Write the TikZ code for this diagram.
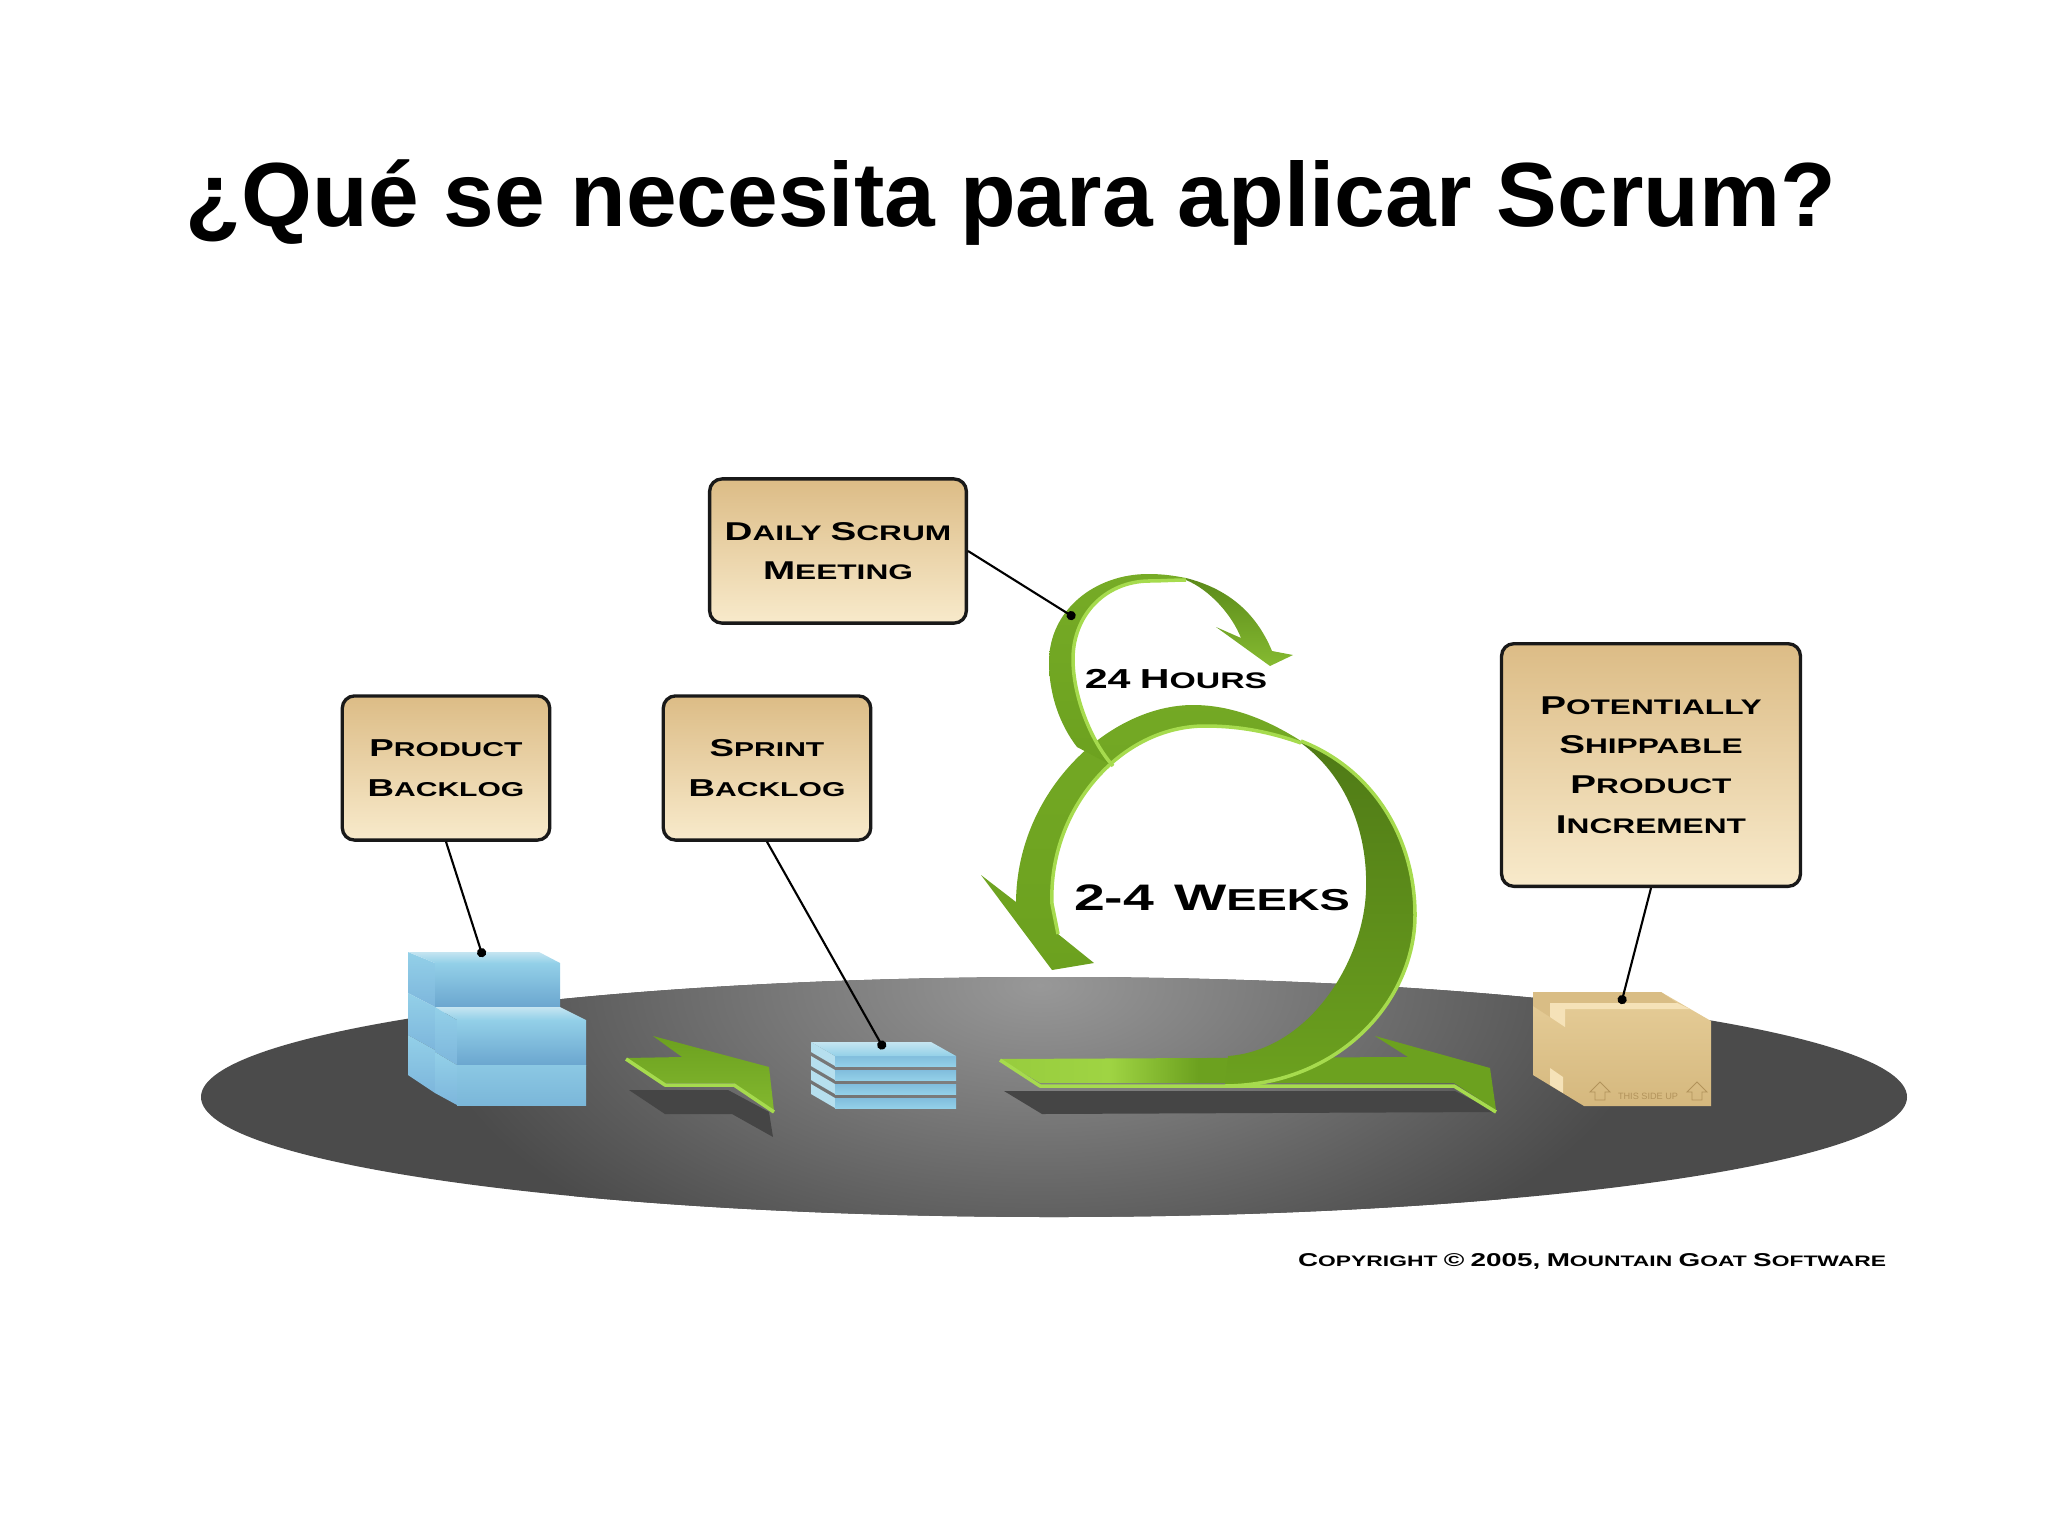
\documentclass[tikz,border=0pt]{standalone}
\usepackage{fontspec}
\usepackage{graphicx}
\setmainfont{Liberation Sans}
\newfontfamily\bankfont[FakeStretch=1.5]{Liberation Sans}
\usetikzlibrary{arrows.meta}
\definecolor{discdark}{HTML}{4B4B4B}
\definecolor{discglow}{HTML}{989898}
\definecolor{discshadow}{HTML}{454545}
\definecolor{leafdark}{HTML}{4F7A16}
\definecolor{leafmid}{HTML}{6CA11F}
\definecolor{leaflite}{HTML}{9FD443}
\definecolor{leafedge}{HTML}{A6DB4E}
\definecolor{tanhigh}{HTML}{DCBC86}
\definecolor{tanlow}{HTML}{F8EACB}
\definecolor{cratehigh}{HTML}{E6CD98}
\definecolor{cratelow}{HTML}{D5B87E}
\definecolor{cratelid}{HTML}{D9BD85}
\definecolor{cratelite}{HTML}{F5E2B8}
\definecolor{cratemark}{HTML}{B2935B}
\definecolor{bluetop}{HTML}{C5E5F1}
\definecolor{bluehigh}{HTML}{93D0E8}
\definecolor{bluelow}{HTML}{6BA6CF}
\definecolor{blueside}{HTML}{7DB6DC}
\pgfdeclareradialshading{discshade}{\pgfpoint{0bp}{0bp}}{color(0bp)=(discglow); color(25bp)=(discdark); color(50bp)=(discdark)}
\pgfdeclarehorizontalshading{bandshade}{100bp}{color(0bp)=(leaflite!85!leafmid); color(25bp)=(leaflite!85!leafmid); color(36bp)=(leaflite); color(45bp)=(leafmid); color(100bp)=(leafmid)}
\newcommand{\bigc}[1]{\scalebox{1.22}{#1}}
\tikzset{
  callout/.style={draw=black!90, line width=0.95pt, rounded corners=3.5pt, top color=tanhigh, bottom color=tanlow,
    align=center, inner sep=0pt, font=\bankfont\bfseries\fontsize{6}{11.3}\selectfont},
  narrowcallout/.style={callout, font=\bankfont\bfseries\fontsize{5.7}{11.3}\selectfont},
  leader/.style={draw=black, line width=0.6pt, -{Circle[length=2.6pt]}},
  bluefront/.style={top color=bluehigh, bottom color=bluelow},
  bluelower/.style={top color=bluehigh!80!bluelow, bottom color=bluehigh!40!bluelow},
  bluelid/.style={top color=bluetop, bottom color=bluehigh},
  blueband/.style={top color=bluehigh, bottom color=blueside},
  leafedgeline/.style={draw=leafedge, line width=1pt, line join=round},
  crateline/.style={draw=cratemark, line width=0.25pt},
}
\begin{document}
\begin{tikzpicture}[x=0.01cm,y=-0.01cm]
  \useasboundingbox (0,0) rectangle (2048,1536);
  \node (title) at (1011,203) {\fontsize{25.9}{30}\selectfont\bfseries ¿Qué se necesita para aplicar Scrum?};
  % disc
  \begin{scope}
    \clip (1054,1097) ellipse [x radius=853, y radius=120];
    \fill[discdark] (150,950) rectangle (1950,1250);
    \shade[shading=discshade] (1040,985) ellipse [x radius=620, y radius=320];
  \end{scope}
  % big stack
  \shade[blueband] (408,952) -- (435,963) -- (435,1007) -- (408,993) -- cycle;
  \shade[blueband] (408,993) -- (435,1007) -- (435,1050) -- (408,1035) -- cycle;
  \shade[blueband] (408,1035) -- (435,1050) -- (435,1093) -- (408,1075) -- cycle;
  \shade[bluelid] (408,952) -- (539,952) -- (560,963) -- (435,963) -- cycle;
  \shade[bluefront] (435,963) rectangle (560,1007);
  \shade[bluelid] (435,1007) -- (560,1007) -- (586,1020) -- (457,1020) -- cycle;
  \shade[blueband] (435,1007) -- (457,1020) -- (457,1065) -- (435,1052) -- cycle;
  \shade[blueband] (435,1052) -- (457,1065) -- (457,1105) -- (435,1093) -- cycle;
  \shade[bluefront] (457,1020) rectangle (586,1065);
  \shade[bluelower] (457,1065) rectangle (586,1105);
  % small arrow
  \fill[discshadow] (629,1090) -- (728,1090) -- (769,1112) -- (773,1137) -- (732,1114) -- (665,1114) -- cycle;
  \shade[top color=leafmid, bottom color=leaflite!45!leafmid] (626,1058) -- (682,1057) -- (653,1036) -- (769,1067) -- (774,1111) -- (734,1083) -- (665,1083) -- cycle;
  \draw[leafedgeline] (626,1059) -- (665,1085) -- (734,1085) -- (774,1112);
  % small stack
  \foreach \Y in {1084,1070,1056,1042} {
    \fill[bluetop!70!bluehigh] (811,\Y) -- (835,\Y+14) -- (835,\Y+24) -- (811,\Y+10) -- cycle;
    \shade[top color=bluehigh!55!bluelow, bottom color=bluehigh] (835,\Y+14) rectangle (956,\Y+24);
  }
  \shade[bluelid] (811,1042) -- (931,1042) -- (956,1056) -- (835,1056) -- cycle;
  % big arrow
  \fill[discshadow] (1004,1091) -- (1455,1091) -- (1496,1112) -- (1042,1114) -- cycle;
  \shade[shading=bandshade] (1000,1059) -- (1408,1057) -- (1375,1036) -- (1490,1068) -- (1496,1110) -- (1454,1083) -- (1040,1083) -- cycle;
  \draw[leafedgeline] (1000,1060) -- (1040,1086) -- (1454,1086) -- (1496,1112);
  \shade[top color=leafdark, bottom color=leafmid] (1301,743) .. controls (1345,775) and (1368,830) .. (1366,890) .. controls (1364,960) and (1310,1050) .. (1228,1056)
    -- (1225,1086) .. controls (1340,1085) and (1415,1000) .. (1415,915) .. controls (1415,840) and (1375,770) .. (1301,741) -- cycle;
  \draw[leafedgeline] (1225,1086) .. controls (1340,1085) and (1415,1000) .. (1415,915) .. controls (1415,840) and (1375,770) .. (1301,741);
  \shade[top color=leafmid!85!leaflite, bottom color=leafmid] (1301,741) .. controls (1260,715) and (1225,705) .. (1193,705) .. controls (1110,705) and (1017,790) .. (1016,902)
    -- (981,875) -- (1052,970) -- (1094,963) -- (1058,934) -- (1052,904) .. controls (1048,810) and (1120,726) .. (1205,726) .. controls (1240,726) and (1270,732) .. (1301,743) -- cycle;
  \draw[leafedgeline] (1058,934) -- (1052,904) .. controls (1048,810) and (1120,726) .. (1205,726) .. controls (1240,726) and (1270,732) .. (1301,743);
  % small loop
  \shade[top color=leafdark!60!leafmid, bottom color=leaflite!50!leafmid] (1186,578) .. controls (1225,588) and (1255,610) .. (1272,651) -- (1293,655) -- (1270,666) -- (1216,627) -- (1241,638) .. controls (1232,615) and (1210,590) .. (1186,580) -- cycle;
  \shade[top color=leafmid!80!leaflite, bottom color=leafmid] (1077,747) .. controls (1060,725) and (1049,695) .. (1049,662) .. controls (1049,610) and (1095,574) .. (1148,574) .. controls (1165,574) and (1175,576) .. (1186,578)
    -- (1186,580) .. controls (1175,580) and (1160,581) .. (1148,581) .. controls (1105,582) and (1073,615) .. (1073,659) .. controls (1073,695) and (1090,740) .. (1113,766) -- cycle;
  \draw[leafedgeline] (1186,580) .. controls (1175,580) and (1160,581) .. (1148,581) .. controls (1105,582) and (1073,615) .. (1073,659) .. controls (1073,695) and (1090,740) .. (1113,766);
  % crate
  \shade[top color=cratehigh, bottom color=cratelow] (1533,992) -- (1661,992) -- (1711,1021) -- (1711,1106) -- (1584,1106) -- (1533,1075) -- cycle;
  \fill[cratelid] (1533,992) -- (1661,992) -- (1677,1003) -- (1550,1003) -- (1550,1017) -- (1533,1006) -- cycle;
  \fill[cratelite] (1550,1003) -- (1677,1003) -- (1690,1009) -- (1565,1009) -- (1565,1027) -- (1550,1017) -- cycle;
  \fill[cratelite] (1550,1068) -- (1563,1077) -- (1563,1093) -- (1550,1085) -- cycle;
  \foreach \x in {1600,1697} {
    \draw[crateline] (\x-5,1100) -- (\x-5,1092) -- (\x-10,1092) -- (\x,1082) -- (\x+10,1092) -- (\x+5,1092) -- (\x+5,1100) -- cycle;
  }
  \node[text=cratemark, font=\fontsize{2.6}{3}\selectfont, inner sep=0pt] (sideup) at (1648,1096) {THIS SIDE UP};
  % callouts
  \node[callout, minimum width=73pt, minimum height=41pt] (daily) at (838,551) {\bigc{D}AILY \bigc{S}CRUM\\\bigc{M}EETING};
  \node[narrowcallout, minimum width=59pt, minimum height=41pt] (product) at (446,768) {\bigc{P}RODUCT\\\bigc{B}ACKLOG};
  \node[narrowcallout, minimum width=59pt, minimum height=41pt] (sprint) at (767,768) {\bigc{S}PRINT\\\bigc{B}ACKLOG};
  \node[callout, minimum width=85pt, minimum height=69pt] (potential) at (1651,765) {\bigc{P}OTENTIALLY\\\bigc{S}HIPPABLE\\\bigc{P}RODUCT\\\bigc{I}NCREMENT};
  \coordinate (dailydot) at (1075,618);
  \coordinate (productdot) at (483,957);
  \coordinate (sprintdot) at (884,1049);
  \coordinate (potentialdot) at (1621,1004);
  \draw[leader] (daily.east) -- (dailydot);
  \draw[leader] (product.south) -- (productdot);
  \draw[leader] (sprint.south) -- (sprintdot);
  \draw[leader] (potential.south) -- (potentialdot);
  % labels
  \node[font=\bankfont\bfseries\fontsize{6.4}{7}\selectfont, inner sep=0pt] (hours) at (1176,679) {\bigc{24} \bigc{H}OURS};
  \node[font=\bankfont\bfseries\fontsize{8.6}{10}\selectfont, inner sep=0pt] (weeks) at (1212,898) {\bigc{2-4}\hspace{0.25em} \bigc{W}EEKS};
  \node[font=\bankfont\bfseries\fontsize{4.33}{5}\selectfont, inner sep=0pt] (copyright) at (1592,1261) {\bigc{C}OPYRIGHT \bigc{©} \bigc{2005,} \bigc{M}OUNTAIN \bigc{G}OAT \bigc{S}OFTWARE};
\end{tikzpicture}
\end{document}
